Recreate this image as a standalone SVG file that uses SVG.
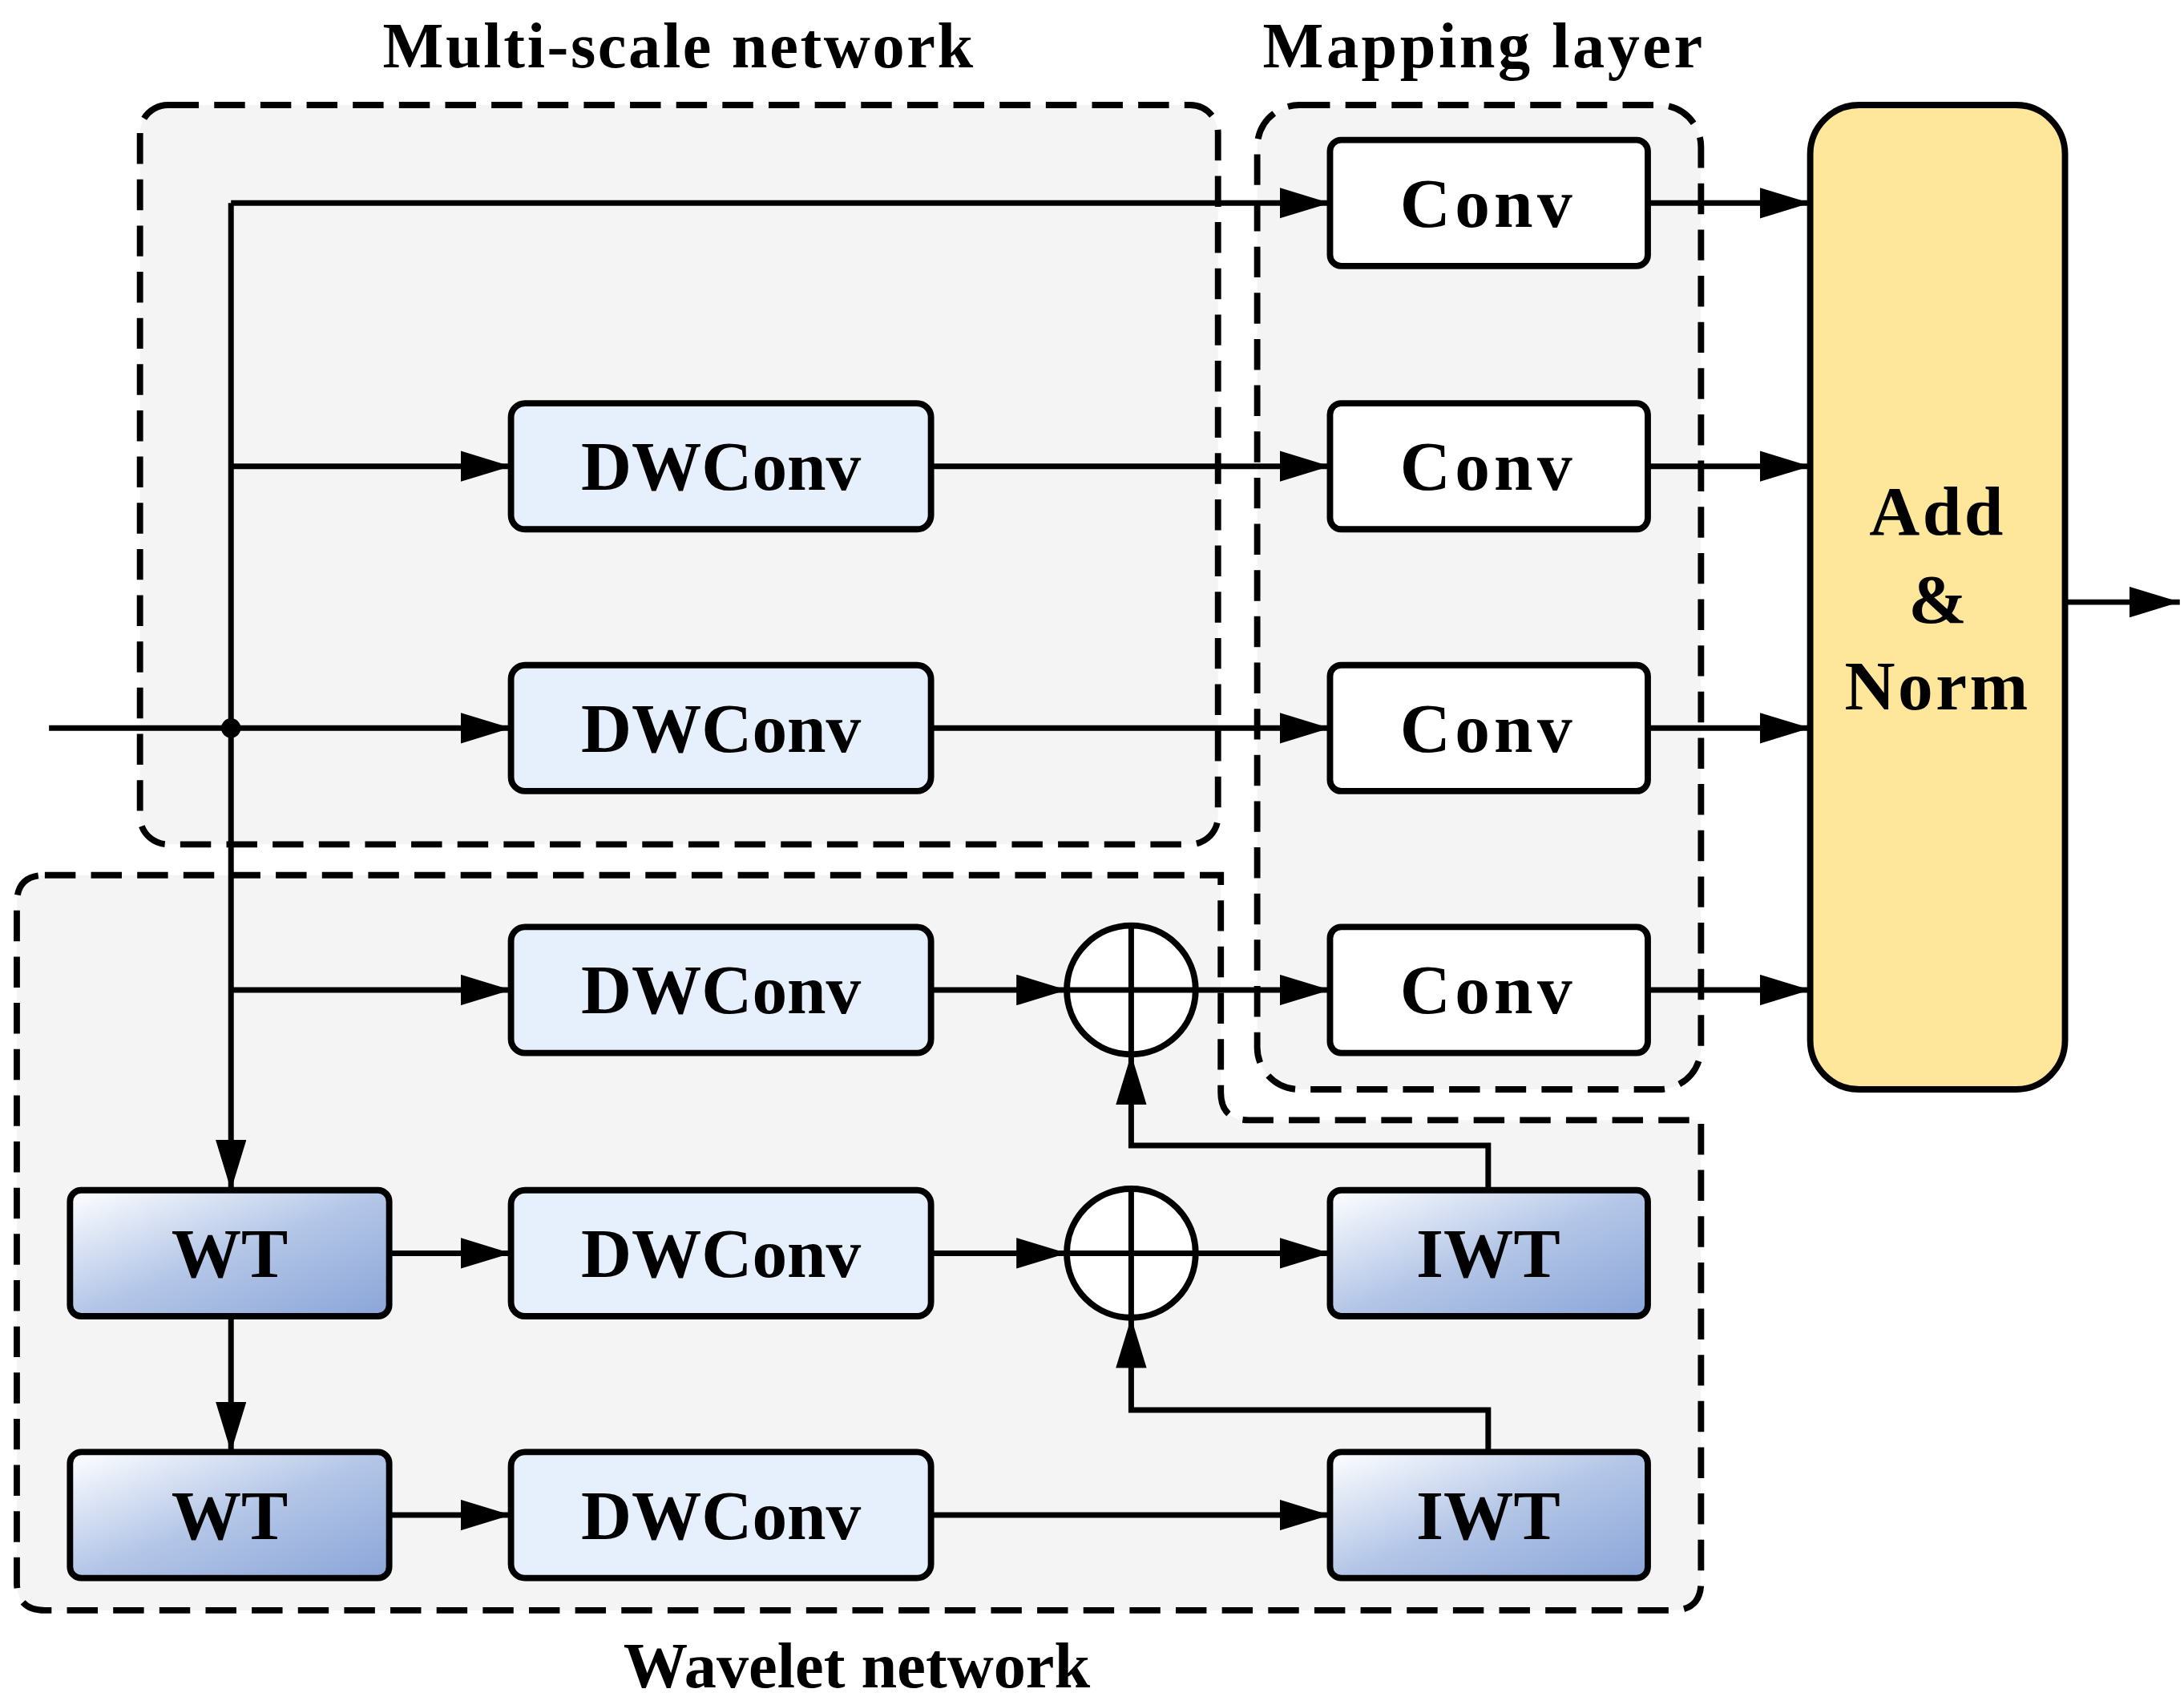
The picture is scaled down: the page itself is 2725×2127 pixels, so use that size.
<svg xmlns="http://www.w3.org/2000/svg" width="2725" height="2127" viewBox="0 0 2725 2127">
<defs>
<marker id="ah" markerUnits="userSpaceOnUse" markerWidth="36" markerHeight="22" refX="36" refY="11" orient="auto"><path d="M0,0 L36,11 L0,22 Z" fill="#000"/></marker>
<linearGradient id="wg" x1="0" y1="0" x2="1" y2="1"><stop offset="0" stop-color="#FFFFFF"/><stop offset="0.5" stop-color="#B4C6E7"/><stop offset="1" stop-color="#8AA5D8"/></linearGradient>
<style>
.grp{fill:#F4F4F4;stroke:#000;stroke-width:4.5;stroke-dasharray:22 11}
.box{stroke:#000;stroke-width:4.5}
.conv{fill:#fff}
.dw{fill:#E6F0FC}
.wt{fill:url(#wg)}
.lbl{font-family:"Liberation Serif",serif;font-weight:bold;font-size:50px;text-anchor:middle;dominant-baseline:central}
.ttl{font-family:"Liberation Serif",serif;font-weight:bold;font-size:46px;text-anchor:middle}
.ln{fill:none;stroke:#000;stroke-width:4}
</style>
</defs>
<rect width="2725" height="2127" fill="#fff"/>
<g transform="scale(1.7468)">
<g id="groups">
<path class="grp" d="M32,625 L872,625 L872,780 Q872,800 892,800 L1215,800 L1215,1130 Q1215,1150 1195,1150 L32,1150 Q12,1150 12,1130 L12,645 Q12,625 32,625 Z"/>
<rect class="grp" x="100" y="75" width="770" height="528" rx="20"/>
<rect class="grp" x="898" y="75" width="317" height="703" rx="30"/>
</g>
<text class="ttl" x="485" y="48" letter-spacing="1.5">Multi-scale network</text>
<text class="ttl" x="1060" y="48" letter-spacing="2">Mapping layer</text>
<text class="ttl" x="612" y="1205">Wavelet network</text>
<g id="connectors">
<path class="ln" d="M35,520 L365,520" marker-end="url(#ah)"/>
<circle cx="165" cy="520" r="7" fill="#000"/>
<path class="ln" d="M165,145 L165,850" marker-end="url(#ah)"/>
<path class="ln" d="M165,145 L950,145" marker-end="url(#ah)"/>
<path class="ln" d="M165,333 L365,333" marker-end="url(#ah)"/>
<path class="ln" d="M165,707 L365,707" marker-end="url(#ah)"/>
<path class="ln" d="M665,333 L950,333" marker-end="url(#ah)"/>
<path class="ln" d="M665,520 L950,520" marker-end="url(#ah)"/>
<path class="ln" d="M665,707 L762,707" marker-end="url(#ah)"/>
<path class="ln" d="M854,707 L950,707" marker-end="url(#ah)"/>
<path class="ln" d="M165,940 L165,1037" marker-end="url(#ah)"/>
<path class="ln" d="M278,895 L365,895" marker-end="url(#ah)"/>
<path class="ln" d="M278,1082 L365,1082" marker-end="url(#ah)"/>
<path class="ln" d="M665,895 L762,895" marker-end="url(#ah)"/>
<path class="ln" d="M854,895 L950,895" marker-end="url(#ah)"/>
<path class="ln" d="M665,1082 L950,1082" marker-end="url(#ah)"/>
<path class="ln" d="M1063,850 L1063,818 L808,818 L808,753" marker-end="url(#ah)"/>
<path class="ln" d="M1063,1037 L1063,1007 L808,1007 L808,941" marker-end="url(#ah)"/>
<path class="ln" d="M1177,145 L1293,145" marker-end="url(#ah)"/>
<path class="ln" d="M1177,333 L1293,333" marker-end="url(#ah)"/>
<path class="ln" d="M1177,520 L1293,520" marker-end="url(#ah)"/>
<path class="ln" d="M1177,707 L1293,707" marker-end="url(#ah)"/>
<path class="ln" d="M1475,430 L1557,430" marker-end="url(#ah)"/>
</g>
<g id="conv1"><rect class="box conv" x="950" y="100" width="227" height="90" rx="8"/><text class="lbl" x="1063" y="145" letter-spacing="3">Conv</text></g>
<g id="conv2"><rect class="box conv" x="950" y="288" width="227" height="90" rx="8"/><text class="lbl" x="1063" y="333" letter-spacing="3">Conv</text></g>
<g id="conv3"><rect class="box conv" x="950" y="475" width="227" height="90" rx="8"/><text class="lbl" x="1063" y="520" letter-spacing="3">Conv</text></g>
<g id="conv4"><rect class="box conv" x="950" y="662" width="227" height="90" rx="8"/><text class="lbl" x="1063" y="707" letter-spacing="3">Conv</text></g>
<g id="dw1"><rect class="box dw" x="365" y="288" width="300" height="90" rx="10"/><text class="lbl" x="515" y="333">DWConv</text></g>
<g id="dw2"><rect class="box dw" x="365" y="475" width="300" height="90" rx="10"/><text class="lbl" x="515" y="520">DWConv</text></g>
<g id="dw3"><rect class="box dw" x="365" y="662" width="300" height="90" rx="10"/><text class="lbl" x="515" y="707">DWConv</text></g>
<g id="dw4"><rect class="box dw" x="365" y="850" width="300" height="90" rx="10"/><text class="lbl" x="515" y="895">DWConv</text></g>
<g id="dw5"><rect class="box dw" x="365" y="1037" width="300" height="90" rx="10"/><text class="lbl" x="515" y="1082">DWConv</text></g>
<g id="wt1"><rect class="box wt" x="50" y="850" width="228" height="90" rx="8"/><text class="lbl" x="164" y="895">WT</text></g>
<g id="wt2"><rect class="box wt" x="50" y="1037" width="228" height="90" rx="8"/><text class="lbl" x="164" y="1082">WT</text></g>
<g id="iwt1"><rect class="box wt" x="950" y="850" width="227" height="90" rx="8"/><text class="lbl" x="1063" y="895">IWT</text></g>
<g id="iwt2"><rect class="box wt" x="950" y="1037" width="227" height="90" rx="8"/><text class="lbl" x="1063" y="1082">IWT</text></g>
<g id="plus1"><circle cx="808" cy="707" r="46" fill="#fff" stroke="#000" stroke-width="4.5"/><path class="ln" d="M762,707 H854 M808,661 V753"/></g>
<g id="plus2"><circle cx="808" cy="895" r="46" fill="#fff" stroke="#000" stroke-width="4.5"/><path class="ln" d="M762,895 H854 M808,849 V941"/></g>
<g id="addnorm"><rect x="1293" y="75" width="182" height="703" rx="35" fill="#FEE69A" stroke="#000" stroke-width="4.5"/>
<text class="lbl" x="1384" y="365" letter-spacing="2">Add</text><text class="lbl" x="1384" y="428">&amp;</text><text class="lbl" x="1384" y="490" letter-spacing="2">Norm</text></g>
</g>
</svg>
